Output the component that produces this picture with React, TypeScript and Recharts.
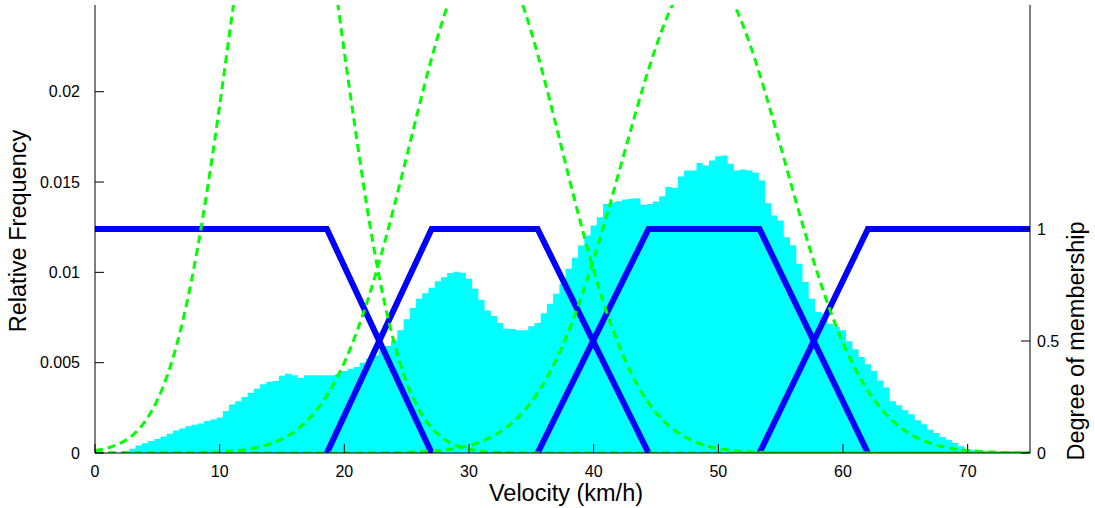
import { Area, ComposedChart, Line, XAxis, YAxis } from "recharts";

// histogram of velocities, bins 0.5 km/h wide, first bin centred on 2.5 km/h
const BIN_START = 2.5;
const BIN_WIDTH = 0.5;
const relFreq = [
  0.0001, 0.00024, 0.00041, 0.00054, 0.00066, 0.00077, 0.00091, 0.00107, 0.00124, 0.00135,
  0.00148, 0.00157, 0.00163, 0.00177, 0.00186, 0.00196,
  0.00232, 0.00269, 0.00286, 0.0031, 0.00334, 0.00356, 0.0038, 0.00395, 0.00398, 0.00428,
  0.00439, 0.0043, 0.00415, 0.0043, 0.0043, 0.0043, 0.0043, 0.0043, 0.00437, 0.00454,
  0.00467, 0.00476, 0.005, 0.00522, 0.0054, 0.00568, 0.00592, 0.00623, 0.00679, 0.0074,
  0.00802, 0.00854, 0.00885, 0.00915, 0.00951, 0.00973, 0.00996, 0.01003, 0.00998, 0.00965,
  0.00909, 0.00848, 0.00789, 0.00758, 0.00719, 0.00688, 0.00686, 0.00679, 0.00679, 0.00702,
  0.00719, 0.00774, 0.00826, 0.00882, 0.00937, 0.0102, 0.01081, 0.01149, 0.01204, 0.01259,
  0.01305, 0.01379, 0.01388, 0.01394, 0.01403, 0.01407, 0.0141, 0.01374, 0.01379, 0.01392,
  0.01421, 0.01473, 0.01468, 0.0153, 0.01564, 0.01564, 0.01606, 0.01591, 0.01619, 0.01643,
  0.01647, 0.01601, 0.01564, 0.01569, 0.01564, 0.01551, 0.01508, 0.01383, 0.01315, 0.01287,
  0.01195, 0.0115, 0.01048, 0.00946, 0.00854, 0.0078, 0.00771, 0.00716, 0.00697, 0.00679,
  0.00619, 0.00574, 0.00531, 0.00491, 0.00454, 0.00402, 0.00362, 0.00286, 0.00264, 0.00236,
  0.00214, 0.00181, 0.00159, 0.00129, 0.00111, 0.00088, 0.00074, 0.00055, 0.00037, 0.00022,
  0.00015, 0.00009, 0.00007, 0.00004,
];

// fitted components, sampled every 1 km/h from 0 to 75 (membership scale)
const curveSpeeds = Array.from({ length: 76 }, (_, i) => i);
const fitLow = [
  0.011, 0.022, 0.043, 0.079, 0.14, 0.236, 0.379, 0.58, 0.845, 1.173,
  1.552, 1.958, 2.352, 2.69, 2.94, 3.05, 3.02, 2.85, 2.57, 2.2,
  1.79, 1.4, 1.035, 0.731, 0.492, 0.315, 0.192, 0.112, 0.062, 0.033,
  0.017, 0.008, 0.004, 0.002, 0.001, 0, 0, 0, 0, 0,
  0, 0, 0, 0, 0, 0, 0, 0, 0, 0,
  0, 0, 0, 0, 0, 0, 0, 0, 0, 0,
  0, 0, 0, 0, 0, 0, 0, 0, 0, 0,
  0, 0, 0, 0, 0, 0,
];
const fitMid = [
  0, 0, 0, 0, 0, 0, 0, 0, 0.001, 0.003,
  0.005, 0.009, 0.015, 0.025, 0.04, 0.063, 0.096, 0.144, 0.208, 0.294,
  0.404, 0.541, 0.704, 0.893, 1.102, 1.324, 1.548, 1.762, 1.951, 2.105,
  2.209, 2.257, 2.245, 2.174, 2.048, 1.879, 1.678, 1.459, 1.234, 1.017,
  0.815, 0.636, 0.483, 0.357, 0.257, 0.18, 0.123, 0.082, 0.053, 0.033,
  0.02, 0.012, 0.007, 0.004, 0.002, 0.001, 0, 0, 0, 0,
  0, 0, 0, 0, 0, 0, 0, 0, 0, 0,
  0, 0, 0, 0, 0, 0,
];
const fitHigh = [
  0, 0, 0, 0, 0, 0, 0, 0, 0, 0,
  0, 0, 0, 0, 0, 0, 0, 0, 0, 0,
  0, 0, 0, 0.001, 0.002, 0.003, 0.005, 0.008, 0.013, 0.021,
  0.034, 0.052, 0.078, 0.114, 0.163, 0.229, 0.313, 0.418, 0.545, 0.695,
  0.865, 1.051, 1.248, 1.447, 1.64, 1.814, 1.961, 2.07, 2.134, 2.149,
  2.114, 2.031, 1.906, 1.747, 1.564, 1.368, 1.168, 0.975, 0.794, 0.632,
  0.491, 0.373, 0.277, 0.201, 0.142, 0.098, 0.066, 0.044, 0.028, 0.018,
  0.011, 0.007, 0.004, 0.002, 0.001, 0.001,
];

// trapezoid membership functions as [speed, degree] corners
const mfSlow: [number, number][] = [[0, 1], [18.6, 1], [27, 0]];
const mfMedium: [number, number][] = [[18.6, 0], [27, 1], [35.5, 1], [44.4, 0]];
const mfFast: [number, number][] = [[35.5, 0], [44.4, 1], [53.3, 1], [62, 0]];
const mfVeryFast: [number, number][] = [[53.3, 0], [62, 1], [75, 1]];

const xTicks = [0, 10, 20, 30, 40, 50, 60, 70];
const freqTicks = [0, 0.005, 0.01, 0.015, 0.02];
const degreeTicks = [0, 0.5, 1];

type Row = { v: number; [key: string]: number };

const rowMap = new Map<string, Row>();
const put = (v: number, key: string, val: number) => {
  const k = v.toFixed(2);
  const row = rowMap.get(k) ?? { v };
  row[key] = val;
  rowMap.set(k, row);
};
// histogram drawn as a step area: one point on each bin's left edge, plus the last right edge
relFreq.forEach((f, i) => put(BIN_START + (i - 0.5) * BIN_WIDTH, "hist", f));
put(BIN_START + (relFreq.length - 0.5) * BIN_WIDTH, "hist", relFreq[relFreq.length - 1]);
curveSpeeds.forEach((v, i) => {
  put(v, "g1", fitLow[i]);
  put(v, "g2", fitMid[i]);
  put(v, "g3", fitHigh[i]);
});
mfSlow.forEach(([v, d]) => put(v, "mf1", d));
mfMedium.forEach(([v, d]) => put(v, "mf2", d));
mfFast.forEach(([v, d]) => put(v, "mf3", d));
mfVeryFast.forEach(([v, d]) => put(v, "mf4", d));
const rows = [...rowMap.values()].sort((a, b) => a.v - b.v);

const tickStyle = { fill: "#000", fontSize: 16 };
const titleSize = 23.5;

export default function App() {
  return (
    <div
      style={{
        position: "absolute",
        left: 0,
        top: 0,
        width: 1095,
        height: 508,
        background: "#fff",
        fontFamily: '"Liberation Sans", Arial, sans-serif',
      }}
    >
      <ComposedChart
        width={1095}
        height={508}
        data={rows}
        margin={{ top: 5, right: 10, bottom: 25, left: 35 }}
      >
        <XAxis
          xAxisId="v"
          dataKey="v"
          type="number"
          domain={[0, 75]}
          ticks={xTicks}
          allowDataOverflow
          height={30}
          stroke="#000"
          tickSize={-9}
          tickMargin={22}
          tick={tickStyle}
          label={{
            content: () => (
              <text x={566} y={501} textAnchor="middle" fontSize={titleSize} fill="#000">
                Velocity (km/h)
              </text>
            ),
          }}
        />
        <XAxis
          xAxisId="top"
          orientation="top"
          type="number"
          domain={[0, 75]}
          height={0}
          tick={false}
          tickLine={false}
          stroke="#000"
        />
        <YAxis
          yAxisId="freq"
          domain={[0, 0.0248]}
          ticks={freqTicks}
          allowDataOverflow
          width={60}
          stroke="#000"
          tickSize={-9}
          tickMargin={24}
          tick={tickStyle}
          label={{
            content: () => (
              <text
                x={26}
                y={231}
                transform="rotate(-90 26 231)"
                textAnchor="middle"
                fontSize={titleSize}
                fill="#000"
              >
                Relative Frequency
              </text>
            ),
          }}
        />
        <YAxis
          yAxisId="deg"
          orientation="right"
          domain={[0, 2]}
          ticks={degreeTicks}
          allowDataOverflow
          width={55}
          stroke="#000"
          tickSize={-9}
          tickMargin={16}
          tick={tickStyle}
          label={{
            content: () => (
              <text
                x={1084}
                y={341}
                transform="rotate(-90 1084 341)"
                textAnchor="middle"
                fontSize={titleSize}
                fill="#000"
              >
                Degree of membership
              </text>
            ),
          }}
        />
        <Area
          xAxisId="v"
          yAxisId="freq"
          dataKey="hist"
          type="stepAfter"
          fill="#00ffff"
          fillOpacity={1}
          stroke="none"
          connectNulls
          dot={false}
          activeDot={false}
          isAnimationActive={false}
        />
        {["mf1", "mf2", "mf3", "mf4"].map((k) => (
          <Line
            key={k}
            xAxisId="v"
            yAxisId="deg"
            dataKey={k}
            type="linear"
            stroke="#0000ff"
            strokeWidth={6}
            dot={false}
            activeDot={false}
            connectNulls
            isAnimationActive={false}
          />
        ))}
        {["g1", "g2", "g3"].map((k) => (
          <Line
            key={k}
            xAxisId="v"
            yAxisId="deg"
            dataKey={k}
            type="monotone"
            stroke="#00ff00"
            strokeWidth={3}
            strokeDasharray="8 5"
            dot={false}
            activeDot={false}
            connectNulls
            isAnimationActive={false}
          />
        ))}
      </ComposedChart>
    </div>
  );
}
